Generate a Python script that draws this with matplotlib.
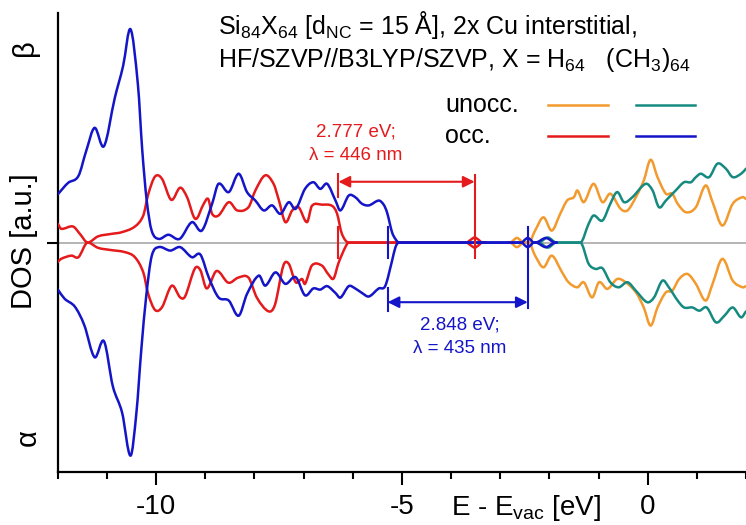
import matplotlib
matplotlib.use("Agg")
from matplotlib import pyplot as plt
from matplotlib.lines import Line2D
from matplotlib.path import Path
from matplotlib.patches import PathPatch

plt.rcParams['font.family'] = ['Liberation Sans', 'DejaVu Sans']
plt.rcParams['mathtext.fontset'] = 'custom'
plt.rcParams['mathtext.rm'] = 'Liberation Sans'
plt.rcParams['mathtext.it'] = 'Liberation Sans:italic'

RED = '#e41a1c'
BLUE = '#1414c8'
ORANGE = '#f29a2e'
TEAL = '#168a80'

# H64, occupied (red): beta > 0, alpha < 0
red_beta_e = [-12.0, -11.93, -11.69, -11.55, -11.39, -11.18, -10.9, -10.7, -10.43, -10.26, -10.16,
              -10.02, -9.88, -9.69, -9.51, -9.37, -9.2, -9.03, -8.94, -8.86, -8.73, -8.52, -8.35,
              -8.12, -7.98, -7.78, -7.61, -7.5, -7.37, -7.23, -7.1, -6.93, -6.83, -6.62, -6.42,
              -6.32, -6.22, -6.08, -3.69, -3.6, -3.52, -3.44, -3.37, -3.3]
red_beta_v = [0.082, 0.06, 0.07, 0.038, 0.0, 0.027, 0.038, 0.045, 0.07, 0.118, 0.21,
              0.288, 0.278, 0.186, 0.239, 0.198, 0.103, 0.169, 0.19, 0.125, 0.118, 0.176, 0.14,
              0.154, 0.227, 0.293, 0.256, 0.183, 0.089, 0.14, 0.154, 0.089, 0.16, 0.165, 0.16,
              0.127, 0.038, 0.0, 0.0, 0.012, 0.022, 0.012, 0.0, 0.0]
red_alpha_e = [-12.0, -11.93, -11.72, -11.58, -11.39, -11.18, -10.94, -10.63, -10.43, -10.26, -10.16,
               -10.02, -9.88, -9.68, -9.51, -9.41, -9.21, -9.1, -8.97, -8.77, -8.53, -8.33, -8.12,
               -7.95, -7.71, -7.58, -7.41, -7.3, -7.16, -7.03, -6.97, -6.83, -6.63, -6.49, -6.39,
               -6.29, -6.15, -6.08, -3.69, -3.6, -3.52, -3.44, -3.37, -3.3]
red_alpha_v = [-0.085, -0.071, -0.057, -0.064, 0.0, -0.023, -0.032, -0.042, -0.064, -0.13, -0.224,
               -0.294, -0.282, -0.188, -0.239, -0.235, -0.113, -0.12, -0.2, -0.124, -0.175, -0.153, -0.153,
               -0.24, -0.3, -0.27, -0.1, -0.093, -0.173, -0.159, -0.18, -0.1, -0.1, -0.14, -0.157,
               -0.09, -0.02, 0.0, 0.0, -0.012, -0.022, -0.012, 0.0, 0.0]

# (CH3)64, occupied (blue)
blue_beta_e = [-12.0, -11.79, -11.58, -11.42, -11.25, -11.06, -10.84, -10.67, -10.52, -10.37, -10.28,
               -10.19, -10.09, -9.95, -9.75, -9.52, -9.27, -9.07, -8.86, -8.73, -8.52, -8.32, -8.15,
               -7.98, -7.81, -7.64, -7.47, -7.3, -7.16, -6.97, -6.8, -6.66, -6.52, -6.35, -6.25,
               -6.08, -5.95, -5.81, -5.67, -5.47, -5.37, -5.3, -5.2, -5.13, -5.06,
               -2.56, -2.5, -2.44, -2.38, -2.32, -2.28, -2.07, -1.88, -1.85]
blue_beta_v = [0.21, 0.26, 0.29, 0.40, 0.50, 0.42, 0.63, 0.77, 0.93, 0.69, 0.40,
               0.183, 0.052, 0.016, 0.034, 0.016, 0.089, 0.052, 0.169, 0.256, 0.22, 0.30, 0.22,
               0.183, 0.14, 0.162, 0.125, 0.176, 0.147, 0.234, 0.263, 0.234, 0.256, 0.183, 0.14,
               0.205, 0.198, 0.169, 0.162, 0.183, 0.165, 0.13, 0.045, 0.015, 0.0,
               0.0, 0.012, 0.02, 0.012, 0.0, 0.0, 0.02, 0.0, 0.0]
blue_alpha_e = [-12.0, -11.86, -11.65, -11.46, -11.25, -11.06, -10.88, -10.69, -10.52, -10.4, -10.3,
                -10.2, -10.09, -9.95, -9.71, -9.51, -9.27, -9.1, -8.93, -8.73, -8.52, -8.32, -8.15,
                -7.91, -7.78, -7.57, -7.37, -7.16, -6.97, -6.8, -6.66, -6.52, -6.35, -6.25, -6.08,
                -5.95, -5.81, -5.67, -5.47, -5.34, -5.2, -5.13, -5.06,
                -2.56, -2.5, -2.44, -2.38, -2.32, -2.28, -2.07, -1.88, -1.85]
blue_alpha_v = [-0.204, -0.245, -0.28, -0.36, -0.50, -0.43, -0.626, -0.742, -0.929, -0.742, -0.466,
                -0.233, -0.06, -0.02, -0.035, -0.02, -0.064, -0.052, -0.151, -0.239, -0.253, -0.319, -0.224,
                -0.144, -0.188, -0.13, -0.18, -0.151, -0.23, -0.2, -0.205, -0.19, -0.22, -0.24, -0.19,
                -0.2, -0.22, -0.235, -0.2, -0.19, -0.08, -0.02, 0.0,
                0.0, -0.012, -0.02, -0.012, 0.0, 0.0, -0.02, 0.0, 0.0]

# H64, unoccupied (orange)
orange_beta_e = [-2.85, -2.8, -2.66, -2.52, -2.42, -2.29, -2.12, -1.95, -1.78, -1.64, -1.5, -1.43,
                 -1.3, -1.1, -0.92, -0.76, -0.55, -0.41, -0.24, -0.08, 0.06, 0.2, 0.37, 0.5,
                 0.61, 0.78, 0.98, 1.18, 1.32, 1.52, 1.73, 1.93, 2.0]
orange_beta_v = [0.0, 0.0, 0.02, 0.0, 0.0, 0.052, 0.11, 0.052, 0.125, 0.183, 0.198, 0.227,
                 0.176, 0.256, 0.176, 0.213, 0.147, 0.14, 0.198, 0.27, 0.361, 0.285, 0.213, 0.213,
                 0.169, 0.132, 0.154, 0.249, 0.176, 0.074, 0.169, 0.198, 0.19]
orange_alpha_e = [-2.85, -2.8, -2.66, -2.52, -2.42, -2.29, -2.12, -1.95, -1.74, -1.61, -1.43, -1.3,
                  -1.13, -0.99, -0.82, -0.62, -0.45, -0.24, -0.08, 0.06, 0.2, 0.37, 0.5, 0.64,
                  0.81, 0.98, 1.18, 1.32, 1.52, 1.73, 1.93, 2.0]
orange_alpha_v = [0.0, 0.0, -0.02, 0.0, 0.0, -0.057, -0.108, -0.057, -0.13, -0.173, -0.195, -0.173,
                  -0.239, -0.173, -0.202, -0.159, -0.173, -0.217, -0.283, -0.362, -0.283, -0.217, -0.21, -0.159,
                  -0.137, -0.18, -0.253, -0.18, -0.071, -0.166, -0.195, -0.19]

# (CH3)64, unoccupied (teal)
teal_beta_e = [-2.3, -2.22, -2.03, -1.86, -1.37, -1.2, -1.1, -0.92, -0.76, -0.62, -0.48, -0.31,
               -0.04, 0.1, 0.23, 0.37, 0.57, 0.74, 0.88, 0.98, 1.08, 1.25, 1.42, 1.59, 1.73, 1.9, 2.0]
teal_beta_v = [0.0, 0.0, 0.022, 0.0, 0.0, 0.082, 0.118, 0.096, 0.169, 0.22, 0.176, 0.198,
               0.256, 0.227, 0.154, 0.183, 0.227, 0.263, 0.263, 0.285, 0.3, 0.285, 0.344, 0.322, 0.285, 0.3, 0.322]
teal_alpha_e = [-2.3, -2.22, -2.03, -1.86, -1.37, -1.2, -1.06, -0.92, -0.76, -0.59, -0.41, -0.24,
                -0.01, 0.13, 0.3, 0.43, 0.61, 0.74, 0.91, 1.05, 1.2, 1.39, 1.56, 1.73, 1.9, 2.0]
teal_alpha_v = [0.0, 0.0, -0.022, 0.0, 0.0, -0.093, -0.115, -0.112, -0.173, -0.195, -0.173, -0.21,
                -0.26, -0.239, -0.166, -0.195, -0.253, -0.283, -0.283, -0.297, -0.283, -0.348, -0.319, -0.283, -0.326, -0.3]

# HOMO / LUMO energies and gap labels
red_gap = [-6.29, -3.52]
blue_gap = [-5.29, -2.44]
red_gap_text = '2.777 eV;\n\u03bb = 446 nm'
blue_gap_text = '2.848 eV;\n\u03bb = 435 nm'


def smooth_path(e, v):
    # draw through the read points with cubic Hermite segments (bezier form)
    n = len(e)
    slopes = []
    for i in range(n):
        a = max(i - 1, 0)
        b = min(i + 1, n - 1)
        s = (v[b] - v[a]) / (e[b] - e[a])
        if v[i] == 0:
            s = 0.0  # curve lies flat where it touches the axis
        slopes.append(s)
    verts = [(e[0], v[0])]
    codes = [Path.MOVETO]
    for i in range(n - 1):
        h = (e[i + 1] - e[i]) / 3
        verts += [(e[i] + h, v[i] + slopes[i] * h),
                  (e[i + 1] - h, v[i + 1] - slopes[i + 1] * h),
                  (e[i + 1], v[i + 1])]
        codes += [Path.CURVE4] * 3
    return Path(verts, codes)


fig = plt.figure(figsize=(7.46, 5.25), dpi=100)
ax = fig.add_axes([0.0774, 0.101, 0.9226, 0.874])

ax.axhline(0, color='#a8a8a8', lw=1.2, zorder=1)

lw = 1.8
curves = [(red_beta_e, red_beta_v, RED, 3), (red_alpha_e, red_alpha_v, RED, 3),
          (orange_beta_e, orange_beta_v, ORANGE, 3), (orange_alpha_e, orange_alpha_v, ORANGE, 3),
          (teal_beta_e, teal_beta_v, TEAL, 3), (teal_alpha_e, teal_alpha_v, TEAL, 3),
          (blue_beta_e, blue_beta_v, BLUE, 4), (blue_alpha_e, blue_alpha_v, BLUE, 4)]
for e, v, c, z in curves:
    ax.add_patch(PathPatch(smooth_path(e, v), fill=False, edgecolor=c, lw=lw, zorder=z,
                           joinstyle='round', capstyle='round'))

# gap markers
mk = 0.066
ax.plot([red_gap[0]] * 2, [-mk, mk], color=RED, lw=1.5, zorder=5)
ax.plot([red_gap[0]] * 2, [0.197, 0.30], color=RED, lw=1.5, zorder=5)
ax.plot([red_gap[1]] * 2, [-mk, 0.295], color=RED, lw=1.5, zorder=5)
ax.annotate('', xy=(red_gap[1], 0.265), xytext=(red_gap[0], 0.265),
            arrowprops=dict(arrowstyle='<|-|>', color=RED, lw=1.5, mutation_scale=17,
                            shrinkA=0, shrinkB=0), zorder=5)
ax.plot([blue_gap[0]] * 2, [-mk, mk], color=BLUE, lw=1.5, zorder=5)
ax.plot([blue_gap[0]] * 2, [-0.297, -0.197], color=BLUE, lw=1.5, zorder=5)
ax.plot([blue_gap[1]] * 2, [-0.285, mk], color=BLUE, lw=1.5, zorder=5)
ax.annotate('', xy=(blue_gap[1], -0.26), xytext=(blue_gap[0], -0.26),
            arrowprops=dict(arrowstyle='<|-|>', color=BLUE, lw=1.5, mutation_scale=17,
                            shrinkA=0, shrinkB=0), zorder=5)

ax.text(-5.94, 0.43, red_gap_text, color=RED, fontsize=13.5, ha='center', va='center',
        linespacing=1.45)
ax.text(-3.82, -0.41, blue_gap_text, color=BLUE, fontsize=13.5, ha='center', va='center',
        linespacing=1.45)

ax.set_xlim(-12, 2)
ax.set_ylim(-1, 1)
ax.spines['top'].set_visible(False)
ax.spines['right'].set_visible(False)
ax.spines['left'].set_linewidth(1.6)
ax.spines['bottom'].set_linewidth(1.6)
ax.set_xticks([-10, -5, 0])
ax.set_xticklabels(['-10', '-5', '0'])
ax.set_xticks(range(-12, 3), minor=True)
ax.tick_params(axis='x', which='major', direction='out', length=9, width=1.5,
               labelsize=20, pad=7)
ax.tick_params(axis='x', which='minor', direction='out', length=5, width=1.5)
ax.set_yticks([0])
ax.set_yticklabels([''])
ax.tick_params(axis='y', direction='out', length=8, width=1.5)

# axis labels
fig.text(0.6046, 0.019, 'E - E$_{\\mathrm{vac}}$ [eV]', fontsize=20, ha='left', va='baseline')
fig.text(0.032, 0.541, 'DOS [a.u.]', fontsize=21, rotation=90, ha='center', va='center')
fig.text(0.0335, 0.91, '\u03b2', fontsize=21, rotation=90, ha='center', va='center')
fig.text(0.0375, 0.166, '\u03b1', fontsize=21, rotation=90, ha='center', va='center')

# header and legend
fig.text(0.292, 0.952, 'Si$_{84}$X$_{64}$ [d$_{\\mathrm{NC}}$ = 15 \u00c5], 2x Cu interstitial,',
         fontsize=18, ha='left', va='center')
fig.text(0.292, 0.886, 'HF/SZVP//B3LYP/SZVP, X = H$_{64}$   (CH$_3$)$_{64}$',
         fontsize=18, ha='left', va='center')
fig.text(0.5965, 0.80, 'unocc.', fontsize=18, ha='left', va='center')
fig.text(0.5965, 0.741, 'occ.', fontsize=18, ha='left', va='center')
for x0, x1, y, c in [(0.7346, 0.815, 0.80, ORANGE), (0.8525, 0.9316, 0.80, TEAL),
                     (0.7346, 0.815, 0.741, RED), (0.8525, 0.9316, 0.741, BLUE)]:
    fig.add_artist(Line2D([x0, x1], [y, y], color=c, lw=1.8, transform=fig.transFigure))

plt.savefig('out.png', dpi=100)
